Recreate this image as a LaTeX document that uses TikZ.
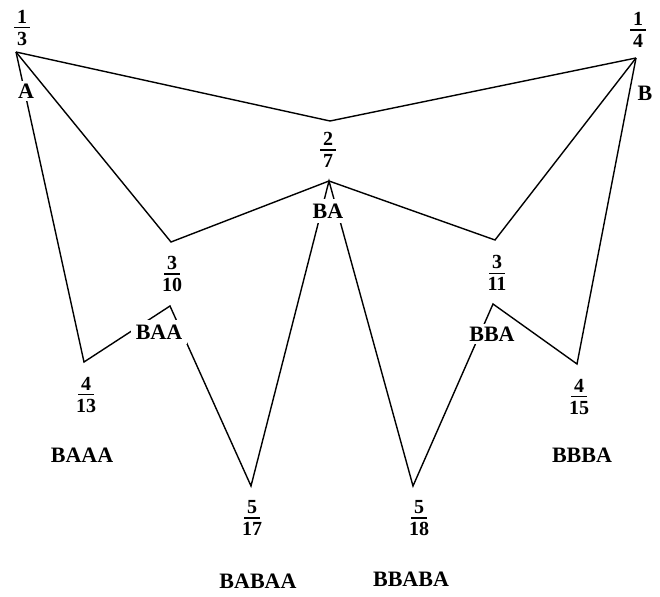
\documentclass[tikz,border=0pt]{standalone}
\usepackage{fontspec}
\setmainfont{Liberation Serif}
\newcommand\myfr[2]{\vbox{\offinterlineskip\halign{\hfil##\hfil\cr #1\cr\noalign{\kern3.5pt}\rule{16pt}{1.2pt}\cr\noalign{\kern3.5pt}#2\cr}}}
\tikzset{
  lab/.style={font=\fontsize{22}{26}\selectfont\bfseries, inner sep=3pt, fill=white},
  widegap/.style={inner sep=5pt},
  fracnode/.style={font=\fontsize{20}{24}\selectfont\bfseries, inner sep=0pt},
  edge/.style={line width=1.4pt, line join=miter}
}
\begin{document}
\begin{tikzpicture}[x=1pt,y=-1pt]
\useasboundingbox (0,0) rectangle (660,596);
% vertices
\coordinate (v1) at (16,52);
\coordinate (v2) at (330,121);
\coordinate (v3) at (636,58);
\coordinate (p310) at (171,242);
\coordinate (pBA) at (329,181);
\coordinate (p311) at (495,240);
\coordinate (p413) at (84,362);
\coordinate (pBAA) at (170,306);
\coordinate (p517) at (251,486);
\coordinate (p518) at (413,486);
\coordinate (pBBA) at (493,304);
\coordinate (p415) at (577,364);
% connectors
\draw[edge] (v1) -- (v2) -- (v3);
\draw[edge] (v1) -- (p310) -- (pBA) -- (p311) -- (v3);
\draw[edge] (v1) -- (p413) -- (pBAA) -- (p517) -- (pBA) -- (p518) -- (pBBA) -- (p415) -- (v3);
% fractions
\node[fracnode] (f13) at (22,28) {\myfr{1}{3}};
\node[fracnode] (f14) at (638,30) {\myfr{1}{4}};
\node[fracnode] (f27) at (328,150) {\myfr{2}{7}};
\node[fracnode] (f310) at (172,274) {\myfr{3}{10}};
\node[fracnode] (f311) at (497,273) {\myfr{3}{11}};
\node[fracnode] (f413) at (86,395) {\myfr{4}{13}};
\node[fracnode] (f415) at (579,397) {\myfr{4}{15}};
\node[fracnode] (f517) at (252,518) {\myfr{5}{17}};
\node[fracnode] (f518) at (419,518) {\myfr{5}{18}};
% word labels
\node[lab] (lA) at (26,91) {A};
\node[lab,fill=none] (lB) at (645,93) {B};
\node[lab,widegap] (lBA) at (328,211) {BA};
\node[lab,widegap] (lBAA) at (159,332) {BAA};
\node[lab] (lBBA) at (492,334) {BBA};
\node[lab] (lBAAA) at (82,455) {BAAA};
\node[lab] (lBBBA) at (582,455) {BBBA};
\node[lab] (lBABAA) at (258,581) {BABAA};
\node[lab] (lBBABA) at (411,579) {BBABA};
\end{tikzpicture}
\end{document}
